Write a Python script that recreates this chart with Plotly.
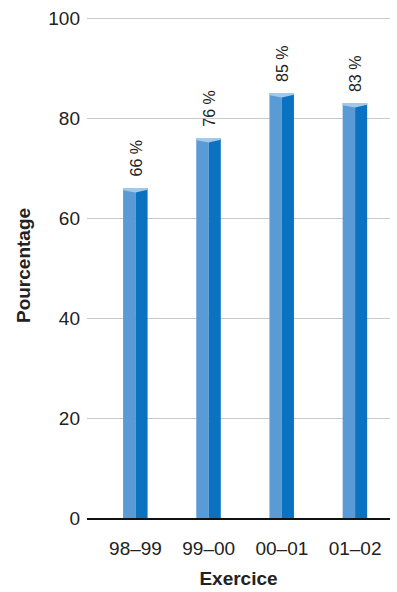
import plotly.graph_objects as go

# Share of the year (percent), by fiscal year
exercices = ["98–99", "99–00", "00–01", "01–02"]
pourcentages = [66, 76, 85, 83]
etiquettes = ["66 %", "76 %", "85 %", "83 %"]
y_ticks = [0, 20, 40, 60, 80, 100]

FONT = "Liberation Sans, Arial, sans-serif"
INK = "#222222"
LEFT_FACE = "#5b9bd5"
RIGHT_FACE = "#0a72c0"
CAP = "#a2c8ea"


def font(size, weight="normal"):
    return dict(family=FONT, size=size, color=INK, weight=weight)


half = 0.17          # half width of a bar, in category units
cap_depth = 0.9      # how far the ridge of the top dips below the value

xs = list(range(len(exercices)))
fig = go.Figure()

# Left (lit) face and right (shaded) face of each prism
fig.add_trace(go.Bar(x=xs, y=pourcentages, width=half, offset=-half,
                     marker=dict(color=LEFT_FACE, line=dict(width=0)),
                     hoverinfo="skip"))
fig.add_trace(go.Bar(x=xs, y=pourcentages, width=half * 0.97, offset=0,
                     marker=dict(color=RIGHT_FACE, line=dict(width=0)),
                     hoverinfo="skip"))

# Light top cap of each prism
for x, v in zip(xs, pourcentages):
    fig.add_trace(go.Scatter(
        x=[x - half, x + half * 0.97, x + half * 0.97, x, x - half, x - half],
        y=[v, v, v - 0.35, v - cap_depth, v - 0.45, v],
        mode="lines", fill="toself", fillcolor=CAP,
        line=dict(width=0, color=CAP), hoverinfo="skip"))

# Rotated value labels above the bars
for x, v, t in zip(xs, pourcentages, etiquettes):
    fig.add_annotation(x=x, y=v, text=t, textangle=-90, showarrow=False,
                       xanchor="center", yanchor="bottom", yshift=9,
                       font=font(16))

fig.update_layout(
    width=397, height=592,
    margin=dict(l=87, r=7, t=13, b=74),
    plot_bgcolor="white", paper_bgcolor="white",
    barmode="overlay", showlegend=False,
    font=font(19),
    xaxis=dict(
        tickvals=xs, ticktext=exercices,
        range=[-0.663, 3.477],
        showgrid=False, zeroline=False,
        showline=True, linecolor="#111111", linewidth=2,
        ticks="", ticklen=0, ticklabelstandoff=12,
        tickfont=font(19),
        title=dict(text="Exercice", standoff=14, font=font(19, "bold")),
    ),
    yaxis=dict(
        range=[0, 101], tickvals=y_ticks,
        showgrid=True, gridcolor="#c8c8c8", gridwidth=1,
        zeroline=False, showline=False, ticks="", ticklabelstandoff=6,
        tickfont=font(19),
        title=dict(text="Pourcentage", standoff=12, font=font(19, "bold")),
    ),
)

fig.write_html("out.html")
